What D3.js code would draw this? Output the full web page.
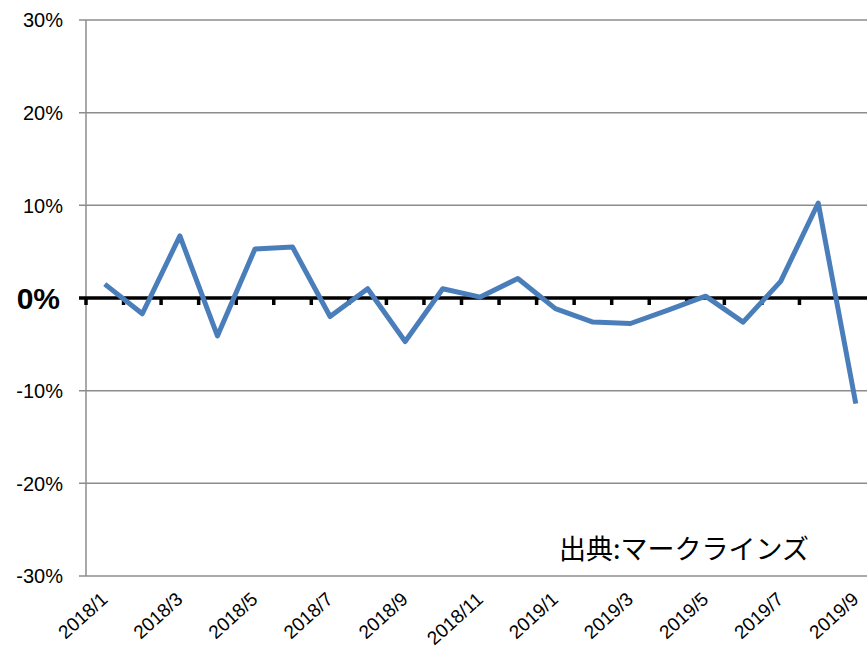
<!DOCTYPE html>
<html><head><meta charset="utf-8">
<script src="https://cdn.jsdelivr.net/npm/d3@7"></script>
<style>body{margin:0;background:#fff;}svg{display:block;}</style>
</head><body>
<svg id="c" width="867" height="650"></svg>
<script>
const months = ["2018/1","2018/2","2018/3","2018/4","2018/5","2018/6","2018/7","2018/8","2018/9","2018/10","2018/11","2018/12",
 "2019/1","2019/2","2019/3","2019/4","2019/5","2019/6","2019/7","2019/8","2019/9"];
const values = [1.5,-1.7,6.7,-4.1,5.3,5.5,-2.0,1.0,-4.7,1.0,0.1,2.1,-1.15,-2.6,-2.75,-1.3,0.2,-2.6,1.8,10.25,-11.4];
const yTicks = [-30,-20,-10,0,10,20,30];
const xLabels = ["2018/1","2018/3","2018/5","2018/7","2018/9","2018/11","2019/1","2019/3","2019/5","2019/7","2019/9"];
const sourceText = "出典:マークラインズ";

(function(){
const svg = d3.select("#c");
const pLeft = 86, pTop = 20, pBottom = 576;
const band = 37.55;
const x = d3.scaleBand().domain(months).range([pLeft, pLeft + band*months.length]).padding(0);
const y = d3.scaleLinear().domain([-30,30]).range([pBottom, pTop]);

svg.append("g").selectAll("line").data(yTicks.filter(d=>d!==0)).join("line")
  .attr("x1", pLeft-7).attr("x2", 867).attr("y1", d=>y(d)).attr("y2", d=>y(d))
  .attr("stroke", "#8c8c8c").attr("stroke-width", 1.5);
svg.append("line").attr("x1", pLeft).attr("x2", pLeft).attr("y1", pTop).attr("y2", pBottom)
  .attr("stroke", "#8c8c8c").attr("stroke-width", 1.5);

svg.append("g").selectAll("text").data(yTicks).join("text")
  .attr("x", d=> d===0 ? 60 : 63).attr("y", d=>y(d))
  .attr("dy", "0.36em")
  .attr("text-anchor","end")
  .attr("font-family","Liberation Sans, Arial, sans-serif")
  .attr("font-size", d=> d===0 ? 30 : 20)
  .attr("font-weight", d=> d===0 ? "bold" : "normal")
  .attr("fill","#000")
  .text(d=>d+"%");

const zeroY = y(0);
svg.append("line").attr("x1", pLeft-7).attr("x2", 867).attr("y1", zeroY).attr("y2", zeroY)
  .attr("stroke","#000").attr("stroke-width",3.5);
const boundaries = months.map(m=>x(m));
svg.append("g").selectAll("line").data(boundaries).join("line")
  .attr("x1", d=>d).attr("x2", d=>d).attr("y1", zeroY).attr("y2", zeroY+7)
  .attr("stroke","#000").attr("stroke-width",3.5);

const line = d3.line().x((d,i)=>x(months[i])+x.bandwidth()/2).y(d=>y(d));
svg.append("path").datum(values).attr("d", line)
  .attr("fill","none").attr("stroke","#4a7ebb").attr("stroke-width",5).attr("stroke-linejoin","round");

svg.append("g").selectAll("text").data(xLabels).join("text")
  .attr("transform", d=>`translate(${x(d)+x.bandwidth()/2+4},${601}) rotate(-42)`)
  .attr("text-anchor","end")
  .attr("font-family","Liberation Sans, Arial, sans-serif")
  .attr("font-size",19)
  .attr("fill","#000")
  .text(d=>d);

svg.append("text").attr("x",559).attr("y",559)
  .attr("font-family","Noto Sans CJK JP, sans-serif").attr("font-size",27)
  .attr("fill","#000").text(sourceText);
})();
</script>
</body></html>
